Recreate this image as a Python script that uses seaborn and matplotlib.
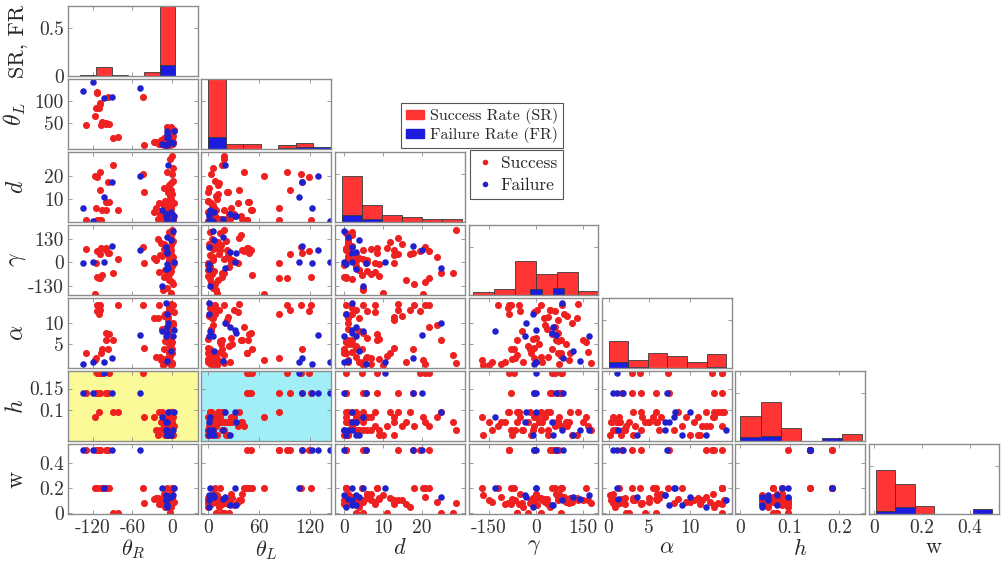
import numpy as np
import pandas as pd
import matplotlib
matplotlib.use("Agg")
import matplotlib.pyplot as plt
import seaborn as sns
from matplotlib.patches import Patch
from matplotlib.lines import Line2D

# ---------------------------------------------------------------------------
# Grasp trials: one entry per trial (first block: wide-angle trials,
# second block: near-frontal trials). outcome: 1 = success, 0 = failure
# ---------------------------------------------------------------------------
theta_R = [-135, -120, -130, -116, -114, -113, -109, -108, -107, -103,
           -100, -99, -97, -91, -89, -82, -48, -44, -43, -115,
           -110, -105, -95,
           -2, -5, 0, -8, -12, -3, 1, -18, -6, -1,
           -10, -4, 2, -14, -7, 0, -22, -3, -9, -1,
           -5, -16, 3, -2, -11, -6, 0, -4, -25, -8,
           -1, -13, -3, 1, -7, -20, -2, -5, -10, 0,
           -15, -4, -1, -6, 2, -9, -3, -27, -12, -2,
           0, -7, -5, -17, -1, -4, 3, -8, -11, -6]
theta_L = [122, 143, 45, 66, 121, 119, 93, 96, 45, 107,
           47, 50, 110, 110, 16, 19, 129, 109, 0, 83,
           83, 52, 48,
           25, 3, 12, 1, 6, 38, 8, 2, 20, 15,
           0, 30, 5, 9, 42, 2, 4, 18, 1, 27,
           11, 3, 35, 7, 0, 22, 14, 2, 6, 33,
           10, 1, 24, 5, 17, 3, 40, 0, 8, 19,
           2, 28, 13, 4, 21, 1, 9, 6, 16, 36,
           3, 26, 0, 11, 7, 2, 31, 5, 14, 23]
d = [5.6, 0.0, 0.5, 20.4, 0.5, 19.7, 22, 14, 0.5, 10.6,
     8.5, 5, 17.7, 17.7, 25, 5, 20, 21, 13, 5.6,
     0.5, 4.7, 8.6,
     1, 4, 12, 0.5, 7, 2, 18, 3, 25, 1,
     9, 3, 0, 5, 22, 3, 1, 28, 2, 6,
     16, 1, 8, 4, 4, 13, 0.5, 2, 6, 2,
     10, 15, 3, 24, 1, 8, 1, 0, 2, 29,
     5, 2, 17, 7, 1, 3, 11, 4, 0, 14,
     21, 3, 9, 1, 6, 2, 2, 5, 0.5, 13]
gamma = [-5, 2, 72, -173, -80, 60, -87, 45, 80, 2,
         80, 70, 50, 87, -60, 18, 65, 85, -5, -5,
         -85, -70, 53,
         20, -45, 110, -10, 75, 150, -120, 40, -30, 95,
         -75, 5, 170, -150, 60, -20, 130, -60, 85, 0,
         -100, 35, -5, 120, -40, 70, 160, -90, 15, 50,
         -170, 100, -25, 30, 140, -55, 65, -15, 90, 175,
         -130, 10, 45, -65, 115, -35, 80, 25, -80, 135,
         -110, 55, -10, 105, -50, 165, 0, -140, 70, 38]
alpha = [0.5, 1.0, 2.9, 1.3, 14, 12.7, 14, 13, 2.9, 1.0,
         5.9, 7.5, 4, 1.8, 5.9, 14, 7.2, 14, 4.1, 1.7,
         12, 3.9, 7.3,
         1, 8, 3, 12, 0.5, 6, 14, 2, 10, 5,
         1.5, 13, 7, 0.3, 9, 4, 11, 2.5, 14.5, 6.5,
         1, 8.5, 12.5, 3.5, 0.8, 10.5, 5.5, 13.5, 2, 7.5,
         0.2, 11.5, 4.5, 9.5, 1.2, 14, 6, 3, 12, 0.6,
         8, 5, 13, 1.8, 10, 7, 2.2, 11, 4, 14.2,
         0.4, 9, 6.2, 1.4, 12.8, 3.2, 8.2, 0.9, 5.8, 11.2]
h = [0.14, 0.14, 0.14, 0.085, 0.14, 0.185, 0.185, 0.14, 0.185, 0.185,
     0.14, 0.14, 0.14, 0.14, 0.097, 0.097, 0.14, 0.185, 0.085, 0.14,
     0.097, 0.185, 0.185,
     0.073, 0.055, 0.096, 0.043, 0.085, 0.073, 0.065, 0.055, 0.096, 0.073,
     0.043, 0.085, 0.055, 0.073, 0.065, 0.096, 0.043, 0.073, 0.055, 0.085,
     0.073, 0.096, 0.065, 0.043, 0.055, 0.073, 0.085, 0.096, 0.055, 0.073,
     0.043, 0.065, 0.073, 0.085, 0.055, 0.096, 0.073, 0.043, 0.065, 0.055,
     0.085, 0.073, 0.096, 0.055, 0.043, 0.073, 0.065, 0.085, 0.055, 0.096,
     0.073, 0.043, 0.055, 0.073, 0.085, 0.065, 0.096, 0.055, 0.073, 0.043]
w = [0.5, 0.5, 0.5, 0.2, 0.2, 0.5, 0.5, 0.5, 0.2, 0.2,
     0.2, 0.5, 0.5, 0.5, 0.0, 0.0, 0.5, 0.2, 0.08, 0.5,
     0.5, 0.2, 0.2,
     0.1, 0.08, 0.12, 0.05, 0.15, 0.1, 0.2, 0.07, 0.13, 0.09,
     0.11, 0.06, 0.14, 0.1, 0.2, 0.08, 0.12, 0.0, 0.1, 0.15,
     0.07, 0.11, 0.09, 0.13, 0.05, 0.1, 0.2, 0.08, 0.12, 0.06,
     0.14, 0.1, 0.0, 0.09, 0.11, 0.07, 0.15, 0.1, 0.13, 0.08,
     0.2, 0.12, 0.05, 0.1, 0.09, 0.14, 0.0, 0.11, 0.07, 0.1,
     0.13, 0.06, 0.12, 0.08, 0.15, 0.1, 0.2, 0.09, 0.11, 0.07]
outcome = [0, 0, 1, 1, 1, 1, 1, 1, 1, 0,
           1, 1, 1, 0, 1, 1, 0, 1, 1, 1,
           1, 1, 1,
           1, 1, 1, 0, 1, 1, 1, 1, 0, 1,
           1, 1, 0, 1, 1, 1, 1, 1, 0, 1,
           1, 1, 1, 0, 1, 1, 1, 1, 1, 0,
           1, 1, 1, 1, 0, 1, 1, 1, 1, 1,
           0, 1, 1, 1, 1, 0, 1, 1, 1, 1,
           1, 0, 1, 1, 1, 1, 0, 1, 1, 1]

# ---------------------------------------------------------------------------
# Per-parameter success / failure rates (fraction of all trials per bin)
# ---------------------------------------------------------------------------
thR_edges = [-139, -115, -91, -67, -43, -19, 5]
thR_sr = [0.0, 0.095, 0.0, 0.0, 0.04, 0.73]
thR_fr = [0.015, 0.0, 0.015, 0.0, 0.0, 0.115]

thL_edges = [0, 20.6, 41.1, 61.7, 82.3, 102.9, 123.4, 144]
thL_sr = [0.73, 0.05, 0.05, 0.0, 0.04, 0.06, 0.0]
thL_fr = [0.12, 0.0, 0.0, 0.0, 0.015, 0.02, 0.02]

d_edges = [-0.4, 4.73, 9.87, 15.0, 20.13, 25.27, 30.4]
d_sr = [0.475, 0.18, 0.07, 0.055, 0.035, 0.035]
d_fr = [0.07, 0.03, 0.0, 0.0, 0.0, 0.0]

g_edges = [-200, -133.3, -66.7, 0, 66.7, 133.3, 200]
g_sr = [0.035, 0.06, 0.35, 0.22, 0.24, 0.04]
g_fr_edges = [-200, -163.6, -127.3, -90.9, -54.5, -18.2, 18.2, 54.5,
              90.9, 127.3, 163.6, 200]
g_fr = [0.0, 0.0, 0.0, 0.0, 0.0, 0.06, 0.0, 0.07, 0.0, 0.0, 0.0]

a_edges = [0, 2.42, 4.83, 7.25, 9.67, 12.08, 14.5]
a_sr = [0.285, 0.085, 0.16, 0.12, 0.065, 0.15]
a_fr = [0.065, 0.01, 0.0, 0.0, 0.0, 0.015]

h_edges = [0, 0.041, 0.082, 0.123, 0.164, 0.205, 0.246]
h_sr = [0.26, 0.41, 0.135, 0.0, 0.0, 0.07]
h_fr = [0.04, 0.05, 0.0, 0.0, 0.035, 0.0]

w_edges = [0.01, 0.09, 0.17, 0.25, 0.33, 0.41, 0.49]
w_sr = [0.46, 0.31, 0.085, 0.0, 0.0, 0.0]
w_fr = [0.03, 0.07, 0.0, 0.0, 0.0, 0.055]

# ---------------------------------------------------------------------------
# Style
# ---------------------------------------------------------------------------
sns.set_style("white")
plt.rcParams["font.family"] = ["cmr10", "DejaVu Serif"]
plt.rcParams["mathtext.fontset"] = "cm"
plt.rcParams["axes.unicode_minus"] = False
plt.rcParams["axes.formatter.use_mathtext"] = True

RED_DOT = "#ee2020"
BLUE_DOT = "#2020cc"
RED_BAR = "#ff3434"
BLUE_BAR = "#1c1ce0"
BAR_EDGE = "#3a3a3a"
FRAME = "#8c8c8c"

vars_ = ["theta_R", "theta_L", "d", "gamma", "alpha", "h", "w"]
df = pd.DataFrame({"theta_R": theta_R, "theta_L": theta_L, "d": d,
                   "gamma": gamma, "alpha": alpha, "h": h, "w": w,
                   "outcome": outcome})
ok = df[df["outcome"] == 1]
bad = df[df["outcome"] == 0]

hists = {
    "theta_R": (thR_edges, thR_sr, thR_edges, thR_fr),
    "theta_L": (thL_edges, thL_sr, thL_edges, thL_fr),
    "d": (d_edges, d_sr, d_edges, d_fr),
    "gamma": (g_edges, g_sr, g_fr_edges, g_fr),
    "alpha": (a_edges, a_sr, a_edges, a_fr),
    "h": (h_edges, h_sr, h_edges, h_fr),
    "w": (w_edges, w_sr, w_edges, w_fr),
}


def rate_frame(edges, rates):
    edges = np.asarray(edges, float)
    return pd.DataFrame({"center": (edges[:-1] + edges[1:]) / 2,
                         "rate": np.asarray(rates, float)})


xlims = {"theta_R": (-157, 39), "theta_L": (-8, 145), "d": (-2.3, 31.2),
         "gamma": (-215, 200), "alpha": (-0.8, 15.2), "h": (-0.01, 0.253),
         "w": (-0.02, 0.52)}
ylims = {"theta_L": (-9, 150), "d": (-0.5, 31), "gamma": (-180, 205),
         "alpha": (-0.5, 15.7), "h": (0.03, 0.19), "w": (-0.01, 0.55)}
xticks = {"theta_R": ([-120, -60, 0], ["-120", "-60", "0"]),
          "theta_L": ([0, 60, 120], ["0", "60", "120"]),
          "d": ([0, 10, 20], ["0", "10", "20"]),
          "gamma": ([-150, 0, 150], ["-150", "0", "150"]),
          "alpha": ([0, 5, 10], ["0", "5", "10"]),
          "h": ([0, 0.1, 0.2], ["0", "0.1", "0.2"]),
          "w": ([0, 0.2, 0.4], ["0", "0.2", "0.4"])}
yticks = {"theta_L": ([50, 100], ["50", "100"]),
          "d": ([10, 20], ["10", "20"]),
          "gamma": ([-130, 0, 130], ["-130", "0", "130"]),
          "alpha": ([5, 10], ["5", "10"]),
          "h": ([0.1, 0.15], ["0.1", "0.15"]),
          "w": ([0, 0.2, 0.4], ["0", "0.2", "0.4"])}
rate_ticks = ([0, 0.5], ["0", "0.5"])
labels = {"theta_R": r"$\theta_R$", "theta_L": r"$\theta_L$", "d": r"$d$",
          "gamma": r"$\gamma$", "alpha": r"$\alpha$", "h": r"$h$", "w": "w"}
RATE_MAX = 0.73

# ---------------------------------------------------------------------------
# Figure and lower-triangular panel grid
# ---------------------------------------------------------------------------
W, H = 1003, 564
fig = plt.figure(figsize=(W / 100, H / 100), dpi=100)
PW, PH = 130, 70
col_left = [68 + 133.5 * j for j in range(7)]
row_top = [6 + 73 * i for i in range(7)]

panel_bg = {(5, 0): "#fafa98", (5, 1): "#a2eef7"}

for i, yv in enumerate(vars_):
    for j in range(i + 1):
        xv = vars_[j]
        ax = fig.add_axes([col_left[j] / W, 1 - (row_top[i] + PH) / H,
                           PW / W, PH / H])
        ax.set_facecolor(panel_bg.get((i, j), "white"))
        if i == j:
            edges, sr, fr_edges, fr = hists[xv]
            sns.histplot(data=rate_frame(edges, sr), x="center",
                         weights="rate", bins=list(edges), color=RED_BAR,
                         alpha=1, edgecolor=BAR_EDGE, linewidth=0.6, ax=ax)
            sns.histplot(data=rate_frame(fr_edges, fr), x="center",
                         weights="rate", bins=list(fr_edges),
                         color=BLUE_BAR, alpha=1, edgecolor=BAR_EDGE,
                         linewidth=0.6, ax=ax)
            ax.set_ylim(0, RATE_MAX)
            yt = rate_ticks
        else:
            sns.scatterplot(x=ok[xv], y=ok[yv], color=RED_DOT, s=26,
                            linewidth=0, ax=ax, legend=False)
            sns.scatterplot(x=bad[xv], y=bad[yv], color=BLUE_DOT, s=22,
                            linewidth=0, ax=ax, legend=False)
            ax.set_ylim(*ylims[yv])
            yt = yticks[yv]
        ax.set_xlim(*xlims[xv])
        ax.set_xticks(xticks[xv][0])
        ax.set_yticks(yt[0])
        ax.set_xlabel("")
        ax.set_ylabel("")
        if i == 6:
            ax.set_xticklabels(xticks[xv][1], fontsize=14)
            ax.set_xlabel(labels[xv], fontsize=16)
            ax.xaxis.set_label_coords(0.5, -0.34)
        else:
            ax.set_xticklabels([])
        if j == 0:
            ax.set_yticklabels(yt[1], fontsize=14)
            ax.set_ylabel("SR, FR" if i == 0 else labels[yv],
                          fontsize=16 if i == 0 else 17)
            ax.yaxis.set_label_coords(-0.31, 0.5)
        else:
            ax.set_yticklabels([])
        ax.tick_params(direction="in", length=3, width=0.6, color=FRAME,
                       top=True, right=True, bottom=True, left=True,
                       labelcolor="#333333")
        ax.tick_params(axis="x", pad=4)
        ax.tick_params(axis="y", pad=3)
        for sp in ax.spines.values():
            sp.set_visible(True)
            sp.set_color(FRAME)
            sp.set_linewidth(1.0)

# ---------------------------------------------------------------------------
# Legends
# ---------------------------------------------------------------------------
rate_handles = [Patch(facecolor=RED_BAR, edgecolor=RED_BAR),
                Patch(facecolor=BLUE_BAR, edgecolor=BLUE_BAR)]
leg1 = fig.legend(rate_handles, ["Success Rate (SR)", "Failure Rate (FR)"],
                  loc="upper right", bbox_to_anchor=(563 / W, 1 - 103 / H),
                  fontsize=11.5, frameon=True, fancybox=False,
                  edgecolor="#555555", framealpha=1, borderpad=0.3,
                  labelspacing=0.2, handlelength=1.1, handleheight=0.5,
                  handletextpad=0.4, borderaxespad=0)
leg1.get_frame().set_linewidth(0.8)

dot_handles = [Line2D([], [], linestyle="none", marker="o", markersize=4,
                      markerfacecolor=RED_DOT, markeredgewidth=0),
               Line2D([], [], linestyle="none", marker="o", markersize=4,
                      markerfacecolor=BLUE_DOT, markeredgewidth=0)]
leg2 = fig.legend(dot_handles, ["Success", "Failure"],
                  loc="upper right", bbox_to_anchor=(563 / W, 1 - 150 / H),
                  fontsize=12.5, frameon=True, fancybox=False,
                  edgecolor="#555555", framealpha=1, borderpad=0.35,
                  labelspacing=0.35, handlelength=1.0,
                  handletextpad=0.4, borderaxespad=0)
leg2.get_frame().set_linewidth(0.8)

fig.savefig("out.png", dpi=100)
